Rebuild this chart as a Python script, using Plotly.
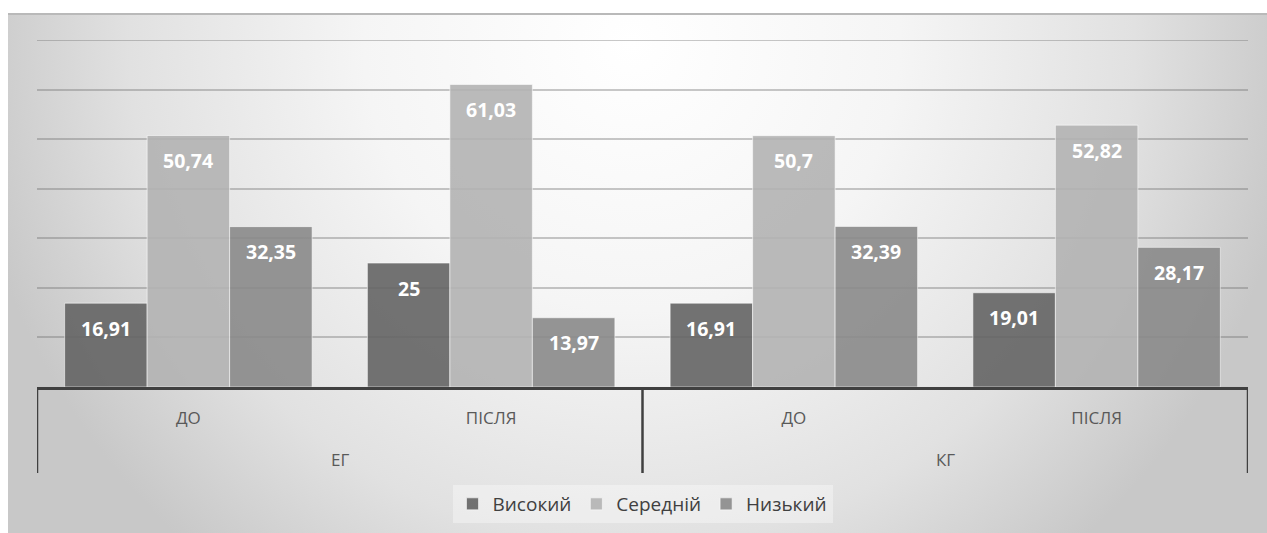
import base64
import plotly.graph_objects as go

# Groups and stages along the x axis
groups = ["ЕГ", "КГ"]
stages = ["ДО", "ПІСЛЯ", "ДО", "ПІСЛЯ"]
x_pos = [0, 1, 2, 3]

# Share of pupils by level (%)
series_names = ["Високий", "Середній", "Низький"]
vysokyi = [16.91, 25, 16.91, 19.01]
serednii = [50.74, 61.03, 50.7, 52.82]
nyzkyi = [32.35, 13.97, 32.39, 28.17]
series_values = [vysokyi, serednii, nyzkyi]

colors = ["rgba(100,100,100,0.9)", "rgba(178,178,178,0.9)", "rgba(138,138,138,0.9)"]
grid_color = "rgba(110,110,110,0.38)"

W, H = 1267, 533
ML, MR, MT, MB = 37, 19, 40, 146
PW, PH = W - ML - MR, H - MT - MB

bar_w = 0.2725
offsets = [-1.5 * bar_w, -0.5 * bar_w, 0.5 * bar_w]


def fmt(v):
    s = f"{v:.2f}".rstrip("0").rstrip(".")
    return s.replace(".", ",")


fig = go.Figure()
annotations = []
for name, vals, col, off in zip(series_names, series_values, colors, offsets):
    fig.add_trace(go.Bar(
        name=name, x=x_pos, y=vals,
        width=bar_w, offset=off,
        marker=dict(color=col, line=dict(color="rgba(255,255,255,0.55)", width=1)),
        hoverinfo="skip",
    ))
    for xi, v in zip(x_pos, vals):
        annotations.append(dict(
            x=xi + off + bar_w / 2, y=v, xref="x", yref="y",
            text=f"<b>{fmt(v)}</b>", showarrow=False,
            yshift=-25, yanchor="middle", xanchor="center",
            font=dict(family="Open Sans", size=19.5, color="white"),
        ))

# Group labels under the stage labels
for gi, g in enumerate(groups):
    annotations.append(dict(
        x=2 * gi + 0.5, y=(0 - 73) / PH, xref="x", yref="paper",
        text=g, showarrow=False, yanchor="middle",
        font=dict(family="Open Sans", size=17, color="#595959"),
    ))

# Vertical dividers between groups
shapes = []
for xd in [-0.5, 1.5, 3.5]:
    shapes.append(dict(
        type="line", xref="x", yref="paper", x0=xd, x1=xd,
        y0=0, y1=-86 / PH, line=dict(color="#404040", width=2.5),
    ))
# Top gridline at the axis maximum
shapes.append(dict(
    type="line", xref="paper", yref="y", x0=0, x1=1, y0=70, y1=70,
    line=dict(color=grid_color, width=2), layer="below",
))

# Chart-area background with a soft radial gradient
bw, bh = W - 8, H - 13
svg = f'''<svg xmlns="http://www.w3.org/2000/svg" width="{bw}" height="{bh}" viewBox="0 0 {bw} {bh}" preserveAspectRatio="none">
<defs><radialGradient id="g" gradientUnits="userSpaceOnUse" cx="624" cy="30" r="670">
<stop offset="0" stop-color="#ffffff"/>
<stop offset="0.4" stop-color="#f5f5f5"/>
<stop offset="0.75" stop-color="#e1e1e1"/>
<stop offset="1" stop-color="#c8c8c8"/>
</radialGradient></defs>
<rect width="{bw}" height="{bh}" fill="url(#g)"/>
<rect width="{bw}" height="2" fill="#b9b9b9"/>
</svg>'''
src = "data:image/svg+xml;base64," + base64.b64encode(svg.encode()).decode()

fig.update_layout(
    width=W, height=H,
    margin=dict(l=ML, r=MR, t=MT, b=MB, autoexpand=False),
    paper_bgcolor="white",
    plot_bgcolor="rgba(0,0,0,0)",
    barmode="group",
    showlegend=True,
    legend=dict(
        orientation="h", x=0.5, xanchor="center",
        y=(0 - 98) / PH, yanchor="top",
        bgcolor="rgba(255,255,255,0.35)",
        font=dict(family="Open Sans", size=19, color="#404040"),
        itemwidth=30,
    ),
    xaxis=dict(
        range=[-0.5, 3.5], tickmode="array", tickvals=x_pos, ticktext=stages,
        showline=True, linecolor="#404040", linewidth=2.5,
        ticks="outside", ticklen=14, tickcolor="rgba(0,0,0,0)",
        tickfont=dict(family="Open Sans", size=17, color="#595959"),
        showgrid=False, zeroline=False,
    ),
    yaxis=dict(
        range=[0, 70], tickmode="array", tickvals=[10, 20, 30, 40, 50, 60],
        showticklabels=False,
        showgrid=True, gridcolor=grid_color, gridwidth=2,
        zeroline=False,
    ),
    annotations=annotations,
    shapes=shapes,
    images=[dict(
        source=src, xref="paper", yref="paper",
        x=(8 - ML) / PW, y=(H - MB - 13) / PH,
        sizex=bw / PW, sizey=bh / PH,
        xanchor="left", yanchor="top", sizing="stretch", layer="below",
    )],
)

fig.write_html("out.html")
